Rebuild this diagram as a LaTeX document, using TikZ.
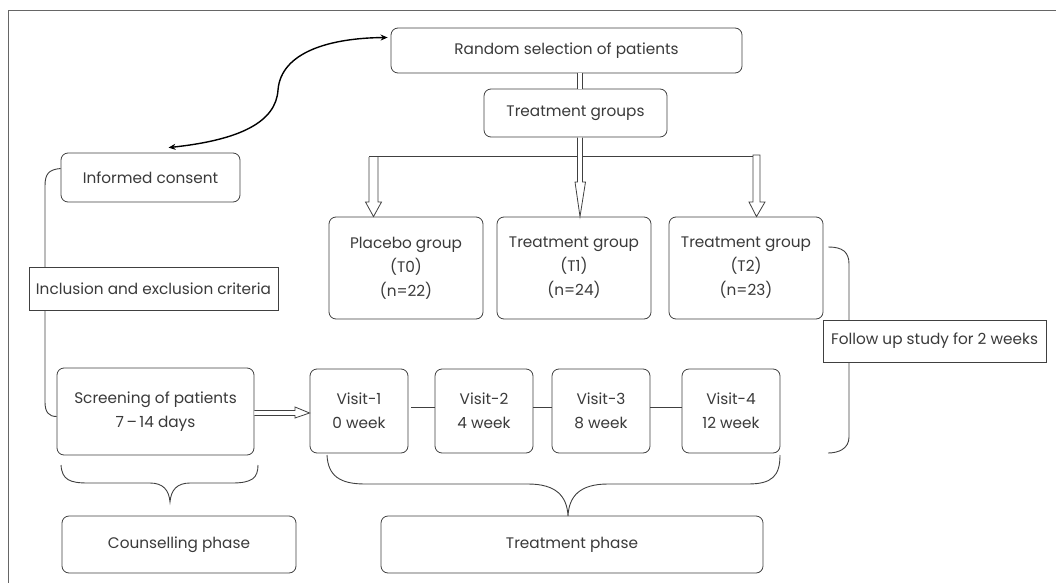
\documentclass[tikz,border=0pt]{standalone}
\usepackage{fontspec}
\setmainfont{Poppins}
\usetikzlibrary{arrows.meta,calc}
\definecolor{lc}{HTML}{404040}
\definecolor{tc}{HTML}{3A3A3A}
\tikzset{
  rbox/.style={draw=lc, line width=0.8pt, rounded corners=7pt, fill=white, align=center, text=tc, inner sep=0pt, font=\fs},
  sbox/.style={draw=lc, line width=0.8pt, fill=white, align=center, text=tc, inner sep=0pt, font=\fs},
  conn/.style={draw=lc, line width=0.9pt},
  blockarrow/.style={draw=lc, line width=0.8pt, fill=white},
}
\newcommand{\fs}{\fontsize{15.3pt}{24pt}\selectfont}
\begin{document}
\begin{tikzpicture}[x=1pt,y=-1pt]
\useasboundingbox (0,0) rectangle (1056,583);
% frame
\draw[draw=lc!80, line width=1pt] (1056,11) -- (8,11) -- (8,583);

% nodes
\node[rbox, minimum width=351pt, minimum height=45pt] (rand) at (566.5,50.5) {Random selection of patients};
\node[rbox, minimum width=183pt, minimum height=48pt] (tg) at (575.5,113) {Treatment groups};
\node[rbox, minimum width=154pt, minimum height=102pt] (plac) at (406,268) {Placebo group\\(T0)\\(n=22)};
\node[rbox, minimum width=154pt, minimum height=102pt] (t1) at (574,268) {Treatment group\\(T1)\\(n=24)};
\node[rbox, minimum width=154pt, minimum height=102pt] (t2) at (746,268) {Treatment group\\(T2)\\(n=23)};
\node[rbox, minimum width=179pt, minimum height=49pt] (cons) at (150.5,177.5) {Informed consent};
\node[rbox, minimum width=197pt, minimum height=87pt] (scr) at (155.5,411.5) {Screening of patients\\7\,\textendash\,14 days};
\node[rbox, minimum width=98pt, minimum height=84pt] (v1) at (359,411) {Visit-1\\0 week};
\node[rbox, minimum width=98pt, minimum height=84pt] (v2) at (484,411) {Visit-2\\4 week};
\node[rbox, minimum width=98pt, minimum height=84pt] (v3) at (601,411) {Visit-3\\8 week};
\node[rbox, minimum width=98pt, minimum height=84pt] (v4) at (731,411) {Visit-4\\12 week};
\node[rbox, minimum width=234pt, minimum height=57pt] (couns) at (179,544.5) {Counselling phase};
\node[rbox, minimum width=382pt, minimum height=57pt] (tphase) at (572,544.5) {Treatment phase};

% left bracket (behind inclusion box)
\draw[conn] ($(cons.west)+(0,-9)$) .. controls +(-12,1) and +(0,-12) .. (45,186) -- (45,402)
  .. controls +(0,10) and +(-8,0) .. ($(scr.west)+(0,5)$);
\node[sbox, minimum width=249pt, minimum height=43pt] (incl) at (153.5,288.5) {Inclusion and exclusion criteria};

% right bracket (behind follow-up box)
\draw[conn] ($(t2.east)+(5,-21)$) .. controls +(14,0) and +(0,-12) .. (849,264) -- (849,437)
  .. controls +(0,12) and +(10,0) .. (828,453);
\node[sbox, minimum width=223pt, minimum height=42pt] (follow) at (934.5,341) {Follow up study for 2 weeks};

% curved double-headed arrow
\draw[draw=black, line width=1.4pt, {Stealth[length=7pt,width=6pt]}-{Stealth[length=7pt,width=6pt]}]
  ($(cons.north)+(18,-5)$) .. controls (240,140) and (276,122) .. (278,90)
  .. controls (281,52) and (330,38) .. ($(rand.west)+(-3,-13)$);

% distribution bus
\coordinate (bx) at (580,0);
\coordinate (busL) at (369,156);
\coordinate (busR) at (760,156);
\draw[draw=lc, line width=0.8pt, double, double distance=3.6pt] (rand.south -| bx) -- (tg.north -| bx);
\draw[conn] (busL) -- (busR);
% block arrows
\draw[blockarrow] (369,157) -- (369,202) -- (365.5,202) -- (plac.north -| 373.5,0) -- (381.5,202) -- (378,202) -- (378,157);
\draw[blockarrow] (577.5,137.5) -- (577.5,182) -- (575,182) -- (t1.north -| bx) -- (585.5,182) -- (582.5,182) -- (582.5,137.5);
\draw[blockarrow] (753,155) -- (753,202) -- (749,202) -- (t2.north -| 756.5,0) -- (765,202) -- (760,202) -- (760,155) -- cycle;

% screening -> visit 1
\draw[blockarrow] ($(scr.east)+(0,-1)$) -- (295,410.5) -- (295,407) -- ($(v1.west)+(0,2)$) -- (295,418) -- (295,415.5) -- ($(scr.east)+(0,4)$);

% visit connectors
\draw[conn] ([yshift=4pt,xshift=3pt]v1.east) -- ([yshift=4pt]v2.west);
\draw[conn] ([yshift=4pt]v2.east) -- ([yshift=4pt]v3.west);
\draw[conn] ([yshift=4pt]v3.east) -- ([yshift=4pt]v4.west);

% counselling brace
\draw[conn] (61,465) .. controls (62,480) and (70,483) .. (88,483) -- (150,483)
  .. controls (163,483) and (169,490) .. (170,502)
  .. controls (171,490) and (177,483) .. (190,483) -- (232,483)
  .. controls (252,483) and (258,478) .. (258,465);

% treatment brace
\draw[conn] (327,455) .. controls (328,476) and (340,484) .. (365,484) -- (528,484)
  .. controls (556,484) and (567,496) .. (568,516)
  .. controls (569,496) and (580,484) .. (608,484) -- (748,484)
  .. controls (772,484) and (780,476) .. (780,455);
\end{tikzpicture}
\end{document}
